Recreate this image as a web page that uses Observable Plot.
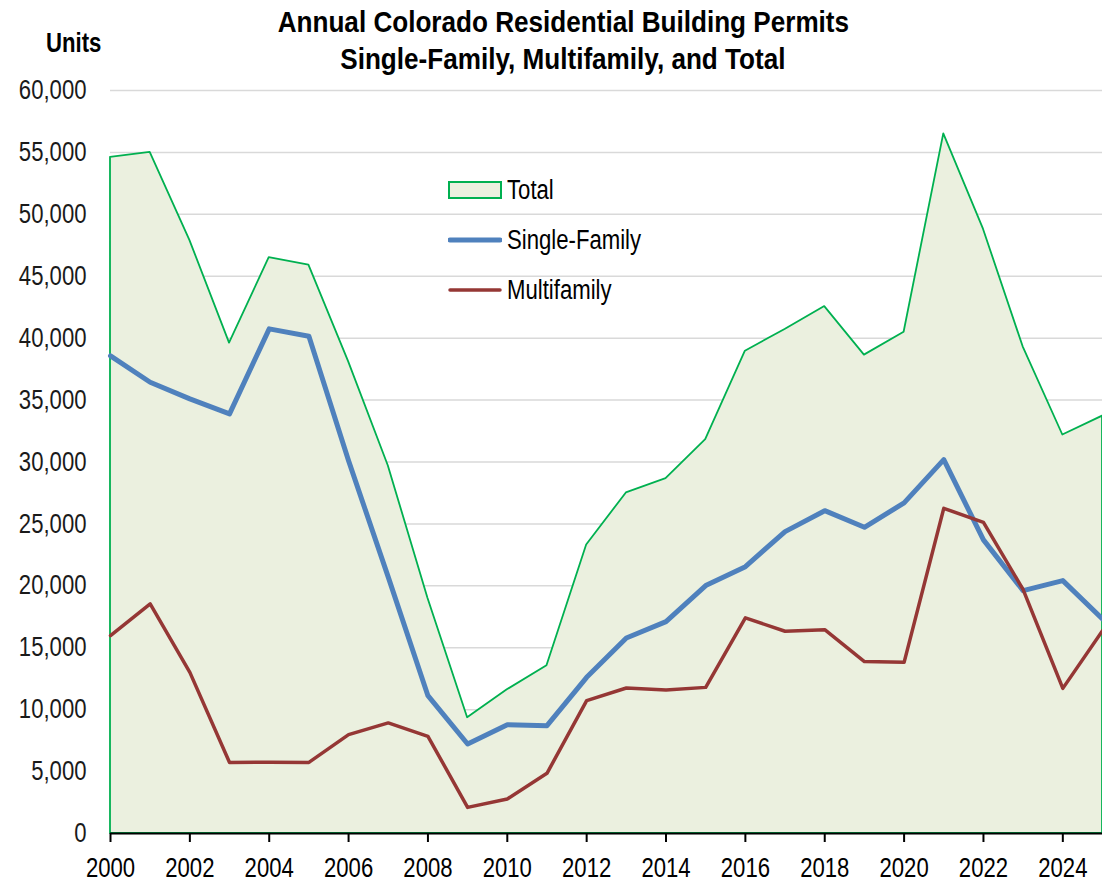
<!DOCTYPE html>
<html>
<head>
<meta charset="utf-8">
<script src="https://cdn.jsdelivr.net/npm/d3@7"></script>
<script src="https://cdn.jsdelivr.net/npm/@observablehq/plot@0.6"></script>
<style>
  html, body { margin: 0; padding: 0; background: #fff; }
  body { width: 1102px; height: 882px; position: relative; overflow: hidden;
         font-family: "Liberation Sans", Arial, sans-serif; }
  #chart { position: absolute; left: 0; top: 0; }
  .narrow { display: inline-block; transform: scaleX(0.82); white-space: nowrap; }
  .title { position: absolute; left: 163px; width: 800px; text-align: center; font-weight: bold;
           font-size: 30px; line-height: 37px; top: 3px; color: #000; }
  .title .narrow { transform-origin: 50% 50%; transform: scaleX(0.87); }
  .units { position: absolute; left: 46px; top: 28px; font-weight: bold; font-size: 27px; color: #000; }
  .units .narrow { transform-origin: 0 50%; }
  .legend { position: absolute; left: 448px; top: 165px; font-size: 27px; color: #000; }
  .legend .row { height: 50px; display: flex; align-items: center; }
  .legend .narrow { transform-origin: 0 50%; }
  .legend svg { margin-right: 5px; }
</style>
</head>
<body>
<div id="chart"></div>
<div class="title"><span class="narrow">Annual Colorado Residential Building Permits</span><br><span class="narrow">Single-Family, Multifamily, and Total</span></div>
<div class="units"><span class="narrow">Units</span></div>
<div class="legend" id="legend"></div>
<script>
const years = [2000, 2001, 2002, 2003, 2004, 2005, 2006, 2007, 2008, 2009, 2010, 2011, 2012,
               2013, 2014, 2015, 2016, 2017, 2018, 2019, 2020, 2021, 2022, 2023, 2024, 2025];
const totalUnits = [54600, 55000, 47900, 39600, 46500, 45900, 38100, 29700, 19000, 9350, 11600, 13550, 23300,
                    27500, 28650, 31800, 38950, 40700, 42550, 38630, 40480, 56500, 48800, 39300, 32180, 33700];
const singleFamily = [38570, 36440, 35100, 33890, 40750, 40150, 30100, 20700, 11130, 7230, 8790, 8710, 12610,
                      15790, 17110, 20020, 21550, 24380, 26070, 24730, 26700, 30190, 23710, 19610, 20420, 17330];
const multifamily = [15980, 18540, 13010, 5740, 5760, 5740, 7980, 8930, 7850, 2110, 2790, 4860, 10730,
                     11750, 11590, 11800, 17410, 16330, 16460, 13880, 13820, 26260, 25130, 19700, 11720, 16380];
const yTicks = [0, 5000, 10000, 15000, 20000, 25000, 30000, 35000, 40000, 45000, 50000, 55000, 60000];
const xTicks = [2000, 2002, 2004, 2006, 2008, 2010, 2012, 2014, 2016, 2018, 2020, 2022, 2024];

const seriesNames = ["Total", "Single-Family", "Multifamily"];
const colors = { total: "#00B050", totalFill: "#EBF0DF", sf: "#4F81BD", mf: "#953735" };

const rows = years.map((y, i) => ({ year: y, total: totalUnits[i], sf: singleFamily[i], mf: multifamily[i] }));

const fontFamily = '"Liberation Sans", Arial, sans-serif';

const chart = Plot.plot({
  width: 1102,
  height: 882,
  marginLeft: 110,
  marginRight: 0,
  marginTop: 90,
  marginBottom: 49,
  style: { fontFamily, background: "transparent", overflow: "visible" },
  x: { domain: [2000, 2025] },
  y: { domain: [0, 60000] },
  marks: [
    Plot.gridY(yTicks, { stroke: "#D9D9D9", strokeOpacity: 1, strokeWidth: 1.5 }),
    Plot.areaY(rows, { x: "year", y: "total", fill: colors.totalFill, stroke: colors.total, strokeWidth: 1.8 }),
    Plot.lineY(rows, { x: "year", y: "sf", stroke: colors.sf, strokeWidth: 5 }),
    Plot.lineY(rows, { x: "year", y: "mf", stroke: colors.mf, strokeWidth: 3.5 }),
    Plot.ruleY([0], { stroke: "#000", strokeWidth: 2 }),
    Plot.axisY(yTicks, { tickSize: 0, tickPadding: 24, fontSize: 27, fill: "#1a1a1a",
                         tickFormat: d => d3.format(",")(d), label: null }),
    Plot.axisX(xTicks, { tickSize: 9, tickPadding: 15, fontSize: 27, fill: "#000", stroke: "#000",
                         strokeWidth: 2, tickFormat: d => String(d), label: null })
  ]
});
// Narrow the tick labels horizontally (Arial Narrow look)
chart.querySelectorAll("g[aria-label='y-axis tick label'] text, g[aria-label='x-axis tick label'] text").forEach(t => {
  const tr = t.getAttribute("transform") || "";
  t.setAttribute("transform", tr + " scale(0.82,1)");
});
document.getElementById("chart").appendChild(chart);

// Legend
const legend = document.getElementById("legend");
const swatches = [
  `<svg width="54" height="20"><rect x="1" y="2" width="52" height="16" fill="${colors.totalFill}" stroke="${colors.total}" stroke-width="2"/></svg>`,
  `<svg width="54" height="20"><line x1="2" y1="10" x2="52" y2="10" stroke="${colors.sf}" stroke-width="5" stroke-linecap="round"/></svg>`,
  `<svg width="54" height="20"><line x1="2" y1="10" x2="52" y2="10" stroke="${colors.mf}" stroke-width="3.5" stroke-linecap="round"/></svg>`
];
seriesNames.forEach((name, i) => {
  const row = document.createElement("div");
  row.className = "row";
  row.innerHTML = swatches[i] + `<span class="narrow">${name}</span>`;
  legend.appendChild(row);
});
</script>
</body>
</html>
